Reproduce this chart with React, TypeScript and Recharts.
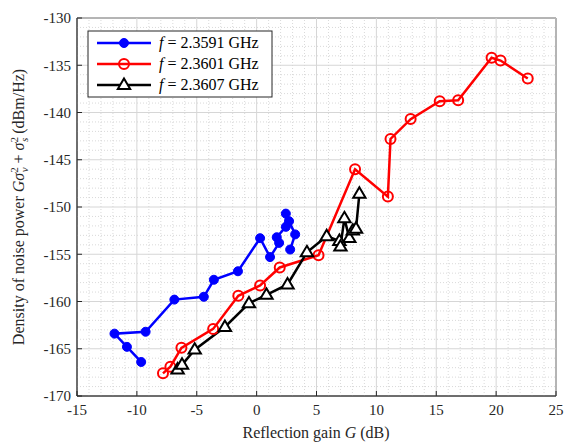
import React from 'react'
import {
  LineChart,
  Line,
  XAxis,
  YAxis,
  ReferenceLine,
  ReferenceArea,
} from 'recharts'

// reflection gain G (dB) and noise power density (dBm/Hz)
const blueG = [-9.64, -10.83, -11.87, -9.27, -6.87, -4.41, -3.57, -1.56, 0.29, 1.12, 1.88, 1.68, 2.44, 2.44, 2.71, 3.22, 2.8]
const blueP = [-166.4, -164.8, -163.4, -163.2, -159.8, -159.5, -157.7, -156.8, -153.3, -155.3, -153.8, -153.2, -152.1, -150.7, -151.5, -152.9, -154.5]

const redG = [-7.82, -7.2, -6.28, -3.63, -1.53, 0.29, 1.93, 5.17, 8.22, 10.96, 11.18, 12.86, 15.29, 16.83, 19.62, 20.37, 22.64]
const redP = [-167.6, -166.9, -164.9, -162.9, -159.4, -158.3, -156.4, -155.1, -146.0, -148.9, -142.8, -140.7, -138.8, -138.7, -134.2, -134.5, -136.4]

const blackG = [-6.6, -6.23, -5.17, -2.65, -0.64, 0.82, 2.58, 4.2, 5.85, 6.91, 7.0, 7.33, 7.74, 8.03, 8.3, 8.58]
const blackP = [-167.2, -166.7, -165.1, -162.7, -160.2, -159.3, -158.2, -154.8, -153.1, -153.6, -154.2, -151.2, -153.3, -152.5, -152.3, -148.6]

const freqLabels = ['2.3591', '2.3601', '2.3607']
const xTicks = [-15, -10, -5, 0, 5, 10, 15, 20, 25]
const yTicks = [-170, -165, -160, -155, -150, -145, -140, -135, -130]
const xMinor = Array.from({ length: 41 }, (_, i) => -15 + i).filter((v) => v % 5 !== 0)
const yMinor = Array.from({ length: 41 }, (_, i) => -170 + i).filter((v) => v % 5 !== 0)

const FONT = "'Liberation Serif', 'Times New Roman', Times, Tinos, 'DejaVu Serif', 'Noto Serif', serif"
const serif = { fontFamily: FONT }

const zip = (g: number[], p: number[]) => g.map((x, i) => ({ x, y: p[i] }))

const series = [
  { key: 'blue', color: '#0000ff', data: zip(blueG, blueP), label: freqLabels[0], marker: 'dot' },
  { key: 'red', color: '#ff0000', data: zip(redG, redP), label: freqLabels[1], marker: 'circle' },
  { key: 'black', color: '#000000', data: zip(blackG, blackP), label: freqLabels[2], marker: 'tri' },
]

function Marker({ cx, cy, kind, color }: { cx?: number; cy?: number; kind: string; color: string }) {
  if (cx == null || cy == null) return null
  if (kind === 'dot') return <circle cx={cx} cy={cy} r={4.5} fill={color} stroke={color} />
  if (kind === 'circle') return <circle cx={cx} cy={cy} r={5} fill="none" stroke={color} strokeWidth={2} />
  const s = 6.5
  const d = `M${cx},${cy - s} L${cx + s * 0.95},${cy + s * 0.6} L${cx - s * 0.95},${cy + s * 0.6} Z`
  return <path d={d} fill="#fff" stroke={color} strokeWidth={2} strokeLinejoin="miter" />
}

function YLabel() {
  return (
    <text
      transform="translate(24,207) rotate(-90)"
      textAnchor="middle"
      style={serif}
      fontSize={16}
      fill="#262626"
    >
      Density of noise power <tspan fontStyle="italic">Gσ</tspan>
      <tspan fontSize={11} dy={-6}>2</tspan>
      <tspan fontSize={11} fontStyle="italic" dx={-5} dy={10}>v</tspan>
      <tspan dy={-4}> + </tspan>
      <tspan fontStyle="italic">σ</tspan>
      <tspan fontSize={11} dy={-6}>2</tspan>
      <tspan fontSize={11} fontStyle="italic" dx={-5} dy={10}>s</tspan>
      <tspan dy={-4}> (dBm/Hz)</tspan>
    </text>
  )
}

function XLabel() {
  return (
    <text x={316} y={438} textAnchor="middle" style={serif} fontSize={16} fill="#262626">
      Reflection gain <tspan fontStyle="italic">G</tspan> (dB)
    </text>
  )
}

function LegendBox() {
  return (
    <svg width={186} height={68} style={{ position: 'absolute', left: 87, top: 30 }}>
      <rect x={1} y={1} width={184} height={66} fill="#fff" stroke="#262626" strokeWidth={1} />
      {series.map((s, i) => {
        const y = 13 + i * 21
        return (
          <g key={s.key}>
            <line x1={10} x2={64} y1={y} y2={y} stroke={s.color} strokeWidth={2.5} />
            <Marker cx={37} cy={y} kind={s.marker} color={s.color} />
            <text x={72} y={y + 5} style={serif} fontSize={16} fill="#000">
              <tspan fontStyle="italic">f</tspan> = {s.label} GHz
            </text>
          </g>
        )
      })}
    </svg>
  )
}

export default function App() {
  const tickStyle = { fontSize: 15, fill: '#262626', style: serif }
  return (
    <div style={{ position: 'absolute', left: 0, top: 0, width: 570, height: 443, background: '#fff', fontFamily: FONT }}>
      <LineChart width={570} height={443} margin={{ top: 18, right: 14, bottom: 17, left: 17 }} style={serif}>
        <XAxis
          type="number"
          dataKey="x"
          domain={[-15, 25]}
          ticks={xTicks}
          allowDataOverflow
          height={30}
          tick={tickStyle}
          tickSize={-5}
          tickMargin={13}
          stroke="#262626"
        />
        <YAxis
          type="number"
          dataKey="y"
          domain={[-170, -130]}
          ticks={yTicks}
          allowDataOverflow
          width={60}
          tick={tickStyle}
          tickSize={-5}
          tickMargin={11}
          stroke="#262626"
        />
        {xMinor.map((v) => (
          <ReferenceLine key={`xm${v}`} x={v} stroke="#cfcfcf" strokeDasharray="1 2" strokeWidth={0.8} />
        ))}
        {yMinor.map((v) => (
          <ReferenceLine key={`ym${v}`} y={v} stroke="#cfcfcf" strokeDasharray="1 2" strokeWidth={0.8} />
        ))}
        {xTicks.map((v) => (
          <ReferenceLine key={`xM${v}`} x={v} stroke="#d6d6d6" strokeWidth={1} />
        ))}
        {yTicks.map((v) => (
          <ReferenceLine key={`yM${v}`} y={v} stroke="#d6d6d6" strokeWidth={1} />
        ))}
        <ReferenceArea
          x1={-15}
          x2={25}
          y1={-170}
          y2={-130}
          fill="none"
          fillOpacity={0}
          stroke="#262626"
          strokeOpacity={1}
        />
        {series.map((s) => (
          <Line
            key={s.key}
            data={s.data}
            dataKey="y"
            type="linear"
            stroke={s.color}
            strokeWidth={2.5}
            isAnimationActive={false}
            dot={(p: any) => <Marker key={`${s.key}-${p.index}`} cx={p.cx} cy={p.cy} kind={s.marker} color={s.color} />}
            activeDot={false}
          />
        ))}
        <YLabel />
        <XLabel />
      </LineChart>
      <LegendBox />
    </div>
  )
}
